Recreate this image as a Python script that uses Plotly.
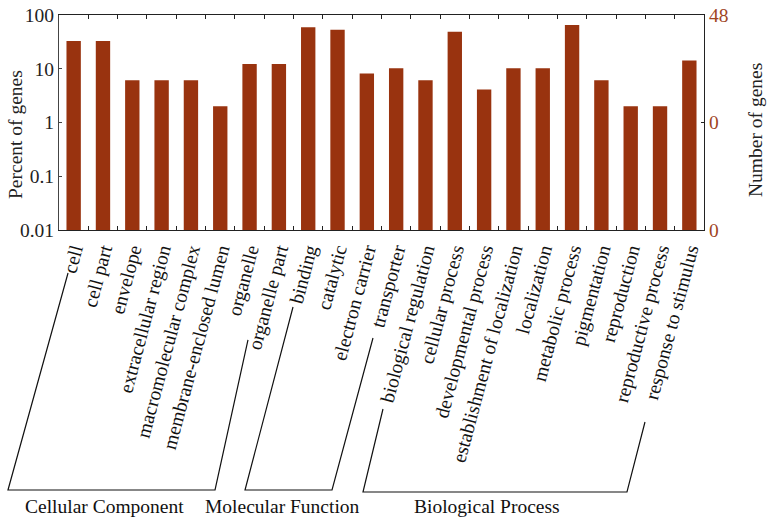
import plotly.graph_objects as go

categories = [
    "cell", "cell part", "envelope", "extracellular region", "macromolecular complex",
    "membrane-enclosed lumen", "organelle", "organelle part",
    "binding", "catalytic", "electron carrier", "transporter",
    "biological regulation", "cellular process", "developmental process",
    "establishment of localization", "localization", "metabolic process",
    "pigmentation", "reproduction", "reproductive process", "response to stimulus",
]
percent_genes = [32.7, 32.7, 6.1, 6.1, 6.1, 2.0, 12.2, 12.2,
                 59.2, 53.1, 8.2, 10.2,
                 6.1, 49.0, 4.1, 10.2, 10.2, 65.3, 6.1, 2.0, 2.0, 14.3]
left_tickvals = [0.01, 0.1, 1, 10, 100]
left_ticktext = ["0.01", "0.1", "1", "10", "100"]
right_tickvals = [0, 24, 48]
right_ticktext = ["0", "0", "48"]
groups = ["Cellular Component", "Molecular Function", "Biological Process"]

BAR = "#99330f"
FONT = "Liberation Serif"
FS = 19.5

W, H = 767, 522
L, R, T, B = 59, 704, 15, 230

def px(x, y):
    return (x - L) / (R - L), (B - y) / (B - T)

fig = go.Figure()
fig.add_trace(go.Bar(x=categories, y=percent_genes, marker_color=BAR,
                     marker_line_width=0, width=0.49, hoverinfo="x+y",
                     showlegend=False))
fig.add_trace(go.Scatter(x=[categories[0], categories[-1]], y=[0, 48], yaxis="y2",
                         mode="lines", line=dict(width=0), hoverinfo="skip",
                         showlegend=False))

# bracket lines below the category labels (pixel positions)
brackets = [
    [(68, 273), (8, 490), (215, 490), (248, 340)],
    [(293, 307), (245, 490), (332, 490), (373, 338)],
    [(383, 409), (363, 492), (627, 492), (645, 422)],
]
for pts in brackets:
    pp = [px(*p) for p in pts]
    path = "M " + " L ".join(f"{a:.4f},{b:.4f}" for a, b in pp)
    fig.add_shape(type="path", path=path, xref="paper", yref="paper",
                  line=dict(color="#111", width=1.2))

label_pos = [(104, 507), (282.5, 507), (486.7, 507)]
for g, (x, y) in zip(groups, label_pos):
    xp, yp = px(x, y)
    fig.add_annotation(text=g, x=xp, y=yp, xref="paper", yref="paper",
                       showarrow=False, xanchor="center", yanchor="middle",
                       font=dict(family=FONT, size=FS, color="#111"))

# axis titles
xp, yp = px(15, 135)
fig.add_annotation(text="Percent of genes", x=xp, y=yp, xref="paper", yref="paper",
                   textangle=-90, showarrow=False, xanchor="center", yanchor="middle",
                   font=dict(family=FONT, size=FS, color="#222"))
xp, yp = px(755, 130)
fig.add_annotation(text="Number of genes", x=xp, y=yp, xref="paper", yref="paper",
                   textangle=-90, showarrow=False, xanchor="center", yanchor="middle",
                   font=dict(family=FONT, size=FS, color="#222"))

fig.update_layout(
    width=W, height=H,
    margin=dict(l=L, r=W - R, t=T, b=H - B, pad=0),
    paper_bgcolor="white", plot_bgcolor="white",
    font=dict(family=FONT, size=FS, color="#111"),
    xaxis=dict(type="category", range=[-0.5, len(categories) - 0.5], automargin=False,
               tickangle=-75, showline=True, linecolor="#222",
               linewidth=1.2, mirror="ticks", ticks="inside", ticklen=4,
               tickson="boundaries", tickcolor="#222", showgrid=False,
               tickfont=dict(family=FONT, size=FS, color="#111")),
    yaxis=dict(type="log", range=[-2, 2], tickvals=left_tickvals, ticktext=left_ticktext,
               automargin=False, ticklabeloverflow="allow",
               showline=True, linecolor="#444", linewidth=1.2, ticks="inside", ticklen=3,
               tickcolor="#444", showgrid=False, zeroline=False,
               tickfont=dict(family=FONT, size=FS, color="#222")),
    yaxis2=dict(overlaying="y", side="right", range=[0, 48], tickvals=right_tickvals,
                ticktext=right_ticktext, automargin=False, ticklabeloverflow="allow",
                showline=True, linecolor="#222", linewidth=1.2,
                ticks="inside", ticklen=3, tickcolor="#222", showgrid=False,
                zeroline=False, tickfont=dict(family=FONT, size=FS, color="#a0451f")),
    bargap=0.5,
)

# remove the browser's default 8px page margin so the figure sits at the window origin
fig.write_html("out.html", config={"displayModeBar": False},
               post_script="document.body.style.margin='0';")
